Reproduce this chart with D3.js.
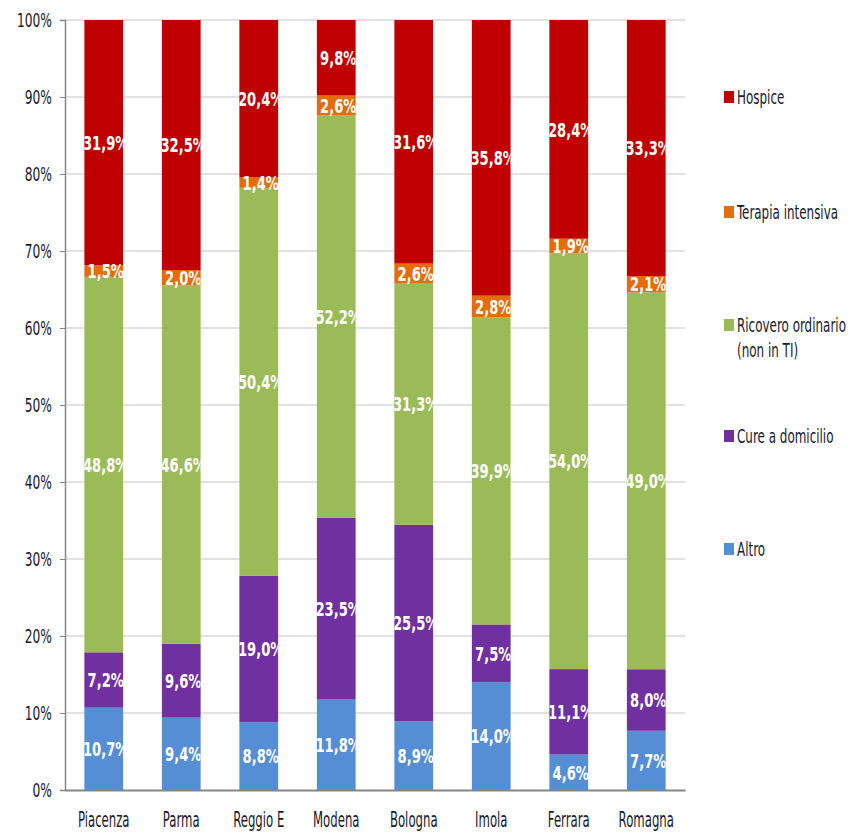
<!DOCTYPE html>
<html>
<head>
<meta charset="utf-8">
<script src="https://cdn.jsdelivr.net/npm/d3@7"></script>
<style>
  body { margin: 0; background: #fff; }
  text { font-family: "DejaVu Sans Condensed", "DejaVu Sans", sans-serif; }
</style>
</head>
<body>
<div id="viz"></div>
<script>
// categories and series, bottom to top
var areas = ['Piacenza', 'Parma', 'Reggio E', 'Modena', 'Bologna', 'Imola', 'Ferrara', 'Romagna'];
var seriesNames = ['Altro', 'Cure a domicilio', 'Ricovero ordinario', 'Terapia intensiva', 'Hospice'];

var altro    = [10.7, 9.4, 8.8, 11.8, 8.9, 14.0, 4.6, 7.7];
var cure     = [7.2, 9.6, 19.0, 23.5, 25.5, 7.5, 11.1, 8.0];
var ricovero = [48.8, 46.6, 50.4, 52.2, 31.3, 39.9, 54.0, 49.0];
var terapia  = [1.5, 2.0, 1.4, 2.6, 2.6, 2.8, 1.9, 2.1];
var hospice  = [31.9, 32.5, 20.4, 9.8, 31.6, 35.8, 28.4, 33.3];

var yTicks = [0, 0.1, 0.2, 0.3, 0.4, 0.5, 0.6, 0.7, 0.8, 0.9, 1];

var colors = ['#558ed5', '#7030a0', '#9bbb59', '#e46c0a', '#c00000'];

// legend top to bottom
var legendItems = [
  {name: 'Hospice', color: '#c00000', lines: ['Hospice']},
  {name: 'Terapia intensiva', color: '#e46c0a', lines: ['Terapia intensiva']},
  {name: 'Ricovero ordinario', color: '#9bbb59', lines: ['Ricovero ordinario', '(non in TI)']},
  {name: 'Cure a domicilio', color: '#7030a0', lines: ['Cure a domicilio']},
  {name: 'Altro', color: '#558ed5', lines: ['Altro']}
];

var table = areas.map(function(a, i) {
  return {area: a, 'Altro': altro[i], 'Cure a domicilio': cure[i], 'Ricovero ordinario': ricovero[i],
          'Terapia intensiva': terapia[i], 'Hospice': hospice[i]};
});

var width = 852, height = 834;
var plotLeft = 65, plotRight = 685, plotTop = 20, plotBottom = 790;
// the original text is tall and narrow, squeeze horizontally
var squeeze = 'scale(0.68,1)';

var svg = d3.select('#viz').append('svg')
  .attr('width', width)
  .attr('height', height);

var x = d3.scaleBand().domain(areas).range([plotLeft, plotRight]).paddingInner(0.5).paddingOuter(0.25);
var y = d3.scaleLinear().domain([0, 1]).range([plotBottom, plotTop]);

// gridlines
svg.append('g')
  .selectAll('line')
  .data(yTicks.slice(1))
  .enter().append('line')
  .attr('x1', plotLeft).attr('x2', plotRight)
  .attr('y1', function(d) { return y(d); })
  .attr('y2', function(d) { return y(d); })
  .attr('stroke', '#d9d9d9')
  .attr('stroke-width', 1.5);

// y axis
var yAxis = svg.append('g')
  .attr('transform', 'translate(' + plotLeft + ',0)')
  .call(d3.axisLeft(y).tickValues(yTicks).tickSize(5).tickFormat(d3.format('.0%')));
yAxis.select('.domain').attr('stroke', '#868686').attr('stroke-width', 1.5);
yAxis.selectAll('.tick line').attr('stroke', '#868686');
yAxis.selectAll('.tick text')
  .attr('x', 0)
  .attr('transform', 'translate(-13,0) ' + squeeze)
  .attr('fill', '#1a1a2a')
  .style('font-size', '20px');

// x axis
var xAxis = svg.append('g')
  .attr('transform', 'translate(0,' + plotBottom + ')')
  .call(d3.axisBottom(x).tickSize(0).tickSizeOuter(0));
xAxis.select('.domain').attr('stroke', '#868686').attr('stroke-width', 2);
xAxis.selectAll('.tick text')
  .attr('y', 0)
  .attr('dy', null)
  .attr('transform', 'translate(0,37) scale(0.62,1)')
  .attr('fill', '#1a1a2a')
  .style('font-size', '21px');

var stack = d3.stack().keys(seriesNames).offset(d3.stackOffsetExpand);
var layers = stack(table);

// clip paths so labels are cut at the bar edges
var defs = svg.append('defs');
areas.forEach(function(a, i) {
  defs.append('clipPath').attr('id', 'clip' + i)
    .append('rect')
    .attr('x', x(a)).attr('y', plotTop)
    .attr('width', x.bandwidth()).attr('height', plotBottom - plotTop);
});

var groups = svg.selectAll('.layer')
  .data(layers)
  .enter().append('g')
  .attr('class', 'layer')
  .attr('fill', function(d, i) { return colors[i]; });

groups.selectAll('rect')
  .data(function(d) { return d; })
  .enter().append('rect')
  .attr('x', function(d) { return x(d.data.area); })
  .attr('y', function(d) { return y(d[1]); })
  .attr('height', function(d) { return y(d[0]) - y(d[1]); })
  .attr('width', x.bandwidth());

// value labels, one clipped group per bar
var fmt = function(v) { return v.toFixed(1).replace('.', ',') + '%'; };
var labelGroups = areas.map(function(a, i) {
  return svg.append('g').attr('clip-path', 'url(#clip' + i + ')');
});
layers.forEach(function(layer) {
  layer.forEach(function(d, i) {
    var cx = x(d.data.area) + x.bandwidth() / 2;
    var cy = (y(d[0]) + y(d[1])) / 2;
    labelGroups[i].append('text')
      .attr('transform', 'translate(' + (cx + 2) + ',' + cy + ') scale(0.73,1)')
      .attr('dy', '0.36em')
      .attr('text-anchor', 'middle')
      .attr('fill', '#fff')
      .style('font-size', '20px')
      .style('font-weight', 'bold')
      .text(fmt(d.data[layer.key]));
  });
});

// legend
var legendY = [97, 212, 325, 436, 549];
var legend = svg.selectAll('.legend')
  .data(legendItems)
  .enter().append('g')
  .attr('class', 'legend')
  .attr('transform', function(d, i) { return 'translate(724,' + legendY[i] + ')'; });

legend.append('rect')
  .attr('x', 0).attr('y', -6)
  .attr('width', 10).attr('height', 12)
  .attr('fill', function(d) { return d.color; });

legend.each(function(d) {
  var g = d3.select(this);
  d.lines.forEach(function(l, j) {
    g.append('text')
      .attr('transform', 'translate(13,' + (j * 25) + ') scale(0.7,1)')
      .attr('dy', '0.36em')
      .attr('fill', '#1a1a2a')
      .style('font-size', '19px')
      .text(l);
  });
});
</script>
</body>
</html>
